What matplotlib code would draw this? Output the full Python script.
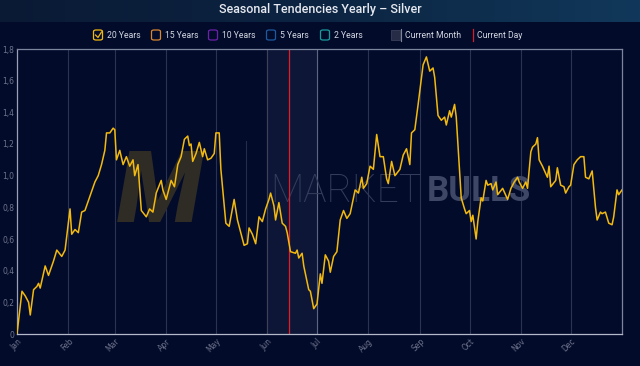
import numpy as np
import matplotlib
matplotlib.use('Agg')
import matplotlib.pyplot as plt
from matplotlib.patches import FancyBboxPatch, Rectangle
from matplotlib.lines import Line2D

# 20-year seasonal tendency for silver (day of year, cumulative value)
days = [0, 1, 3, 5, 7, 8, 10, 12, 13, 14, 17, 19, 22, 24, 27, 29, 32, 33, 35, 37,
        39, 41, 44, 47, 49, 51, 53, 54, 56, 58, 59, 60, 62, 64, 66, 68, 70, 71, 73, 75,
        78, 80, 82, 84, 87, 88, 90, 93, 95, 97, 99, 101, 103, 104, 105, 106, 108, 110, 112, 113,
        115, 117, 119, 120, 122, 123, 126, 128, 131, 133, 137, 139, 140, 142, 144, 146, 148, 150, 152, 153,
        155, 156, 158, 160, 162, 163, 165, 168, 169, 170, 172, 173, 176, 177, 179, 181, 183, 184, 186, 188,
        189, 191, 193, 195, 197, 199, 201, 204, 206, 208, 209, 211, 213, 215, 217, 219, 221, 223, 224, 226,
        228, 231, 233, 235, 237, 238, 240, 242, 245, 247, 249, 251, 252, 254, 256, 258, 259, 261, 262, 264,
        265, 268, 270, 271, 273, 274, 275, 277, 278, 280, 281, 283, 284, 286, 287, 289, 290, 293, 296, 298,
        300, 302, 303, 305, 307, 308, 310, 311, 313, 314, 315, 317, 320, 321, 322, 325, 326, 328, 330, 331,
        333, 334, 336, 338, 340, 342, 343, 345, 347, 349, 350, 352, 353, 355, 357, 359, 360, 362, 363, 365]
values = [0.00, 0.09, 0.27, 0.24, 0.20, 0.12, 0.28, 0.30, 0.32, 0.29, 0.43, 0.37, 0.46, 0.53, 0.49, 0.53, 0.79, 0.63, 0.66, 0.64,
          0.77, 0.78, 0.87, 0.96, 1.00, 1.07, 1.16, 1.27, 1.27, 1.30, 1.29, 1.10, 1.16, 1.07, 1.12, 1.06, 1.10, 1.00, 1.07, 0.78,
          0.74, 0.79, 0.77, 0.89, 0.97, 0.91, 0.85, 0.97, 0.93, 1.07, 1.12, 1.23, 1.25, 1.19, 1.20, 1.09, 1.14, 1.21, 1.12, 1.17,
          1.10, 1.11, 1.14, 1.27, 1.27, 1.04, 0.70, 0.68, 0.85, 0.72, 0.56, 0.57, 0.67, 0.63, 0.57, 0.74, 0.71, 0.79, 0.85, 0.89,
          0.81, 0.72, 0.83, 0.70, 0.68, 0.64, 0.52, 0.51, 0.53, 0.48, 0.51, 0.43, 0.28, 0.27, 0.16, 0.19, 0.38, 0.32, 0.50, 0.46,
          0.39, 0.49, 0.52, 0.72, 0.78, 0.73, 0.76, 0.91, 0.89, 0.99, 0.92, 0.95, 1.06, 1.04, 1.26, 1.12, 1.12, 0.98, 0.95, 1.09,
          1.00, 1.04, 1.13, 1.17, 1.07, 1.27, 1.29, 1.45, 1.70, 1.75, 1.66, 1.68, 1.62, 1.38, 1.35, 1.37, 1.32, 1.41, 1.37, 1.45,
          1.37, 0.86, 0.79, 0.76, 0.78, 0.71, 0.75, 0.60, 0.71, 0.86, 0.84, 0.97, 0.94, 0.95, 0.91, 0.96, 0.88, 0.92, 0.85, 0.92,
          0.96, 0.99, 0.96, 0.92, 0.96, 0.92, 1.15, 1.18, 1.20, 1.24, 1.10, 1.06, 0.99, 1.06, 0.93, 0.97, 1.05, 0.94, 0.93, 0.89,
          0.93, 0.94, 1.07, 1.10, 1.12, 1.12, 0.99, 0.98, 1.03, 0.80, 0.72, 0.77, 0.76, 0.77, 0.70, 0.69, 0.74, 0.91, 0.88, 0.91]

month_starts = [0, 31, 59, 90, 120, 151, 181, 212, 243, 273, 304, 334]
month_labels = ['Jan', 'Feb', 'Mar', 'Apr', 'May', 'Jun', 'Jul', 'Aug', 'Sep', 'Oct', 'Nov', 'Dec']
current_month = (151, 181)
current_day = 164
y_ticks = [0, 0.2, 0.4, 0.6, 0.8, 1.0, 1.2, 1.4, 1.6, 1.8]

legend_names = ['20 Years', '15 Years', '10 Years', '5 Years', '2 Years']
legend_colors = ['#f2b90f', '#d9862e', '#6b21a8', '#1e5aa0', '#179c9c']

bg = '#030b2b'
gold = '#f2b90f'
tick_col = '#6c748c'

fig = plt.figure(figsize=(6.4, 3.66), dpi=100, facecolor=bg)

# title banner gradient
banner = fig.add_axes([0, 1 - 22 / 366, 1, 22 / 366])
grad = np.linspace(0, 1, 256).reshape(1, -1)
cmap = matplotlib.colors.LinearSegmentedColormap.from_list('b', ['#0a1a35', '#0c2442', '#11385a'])
banner.imshow(grad, aspect='auto', cmap=cmap, extent=[0, 1, 0, 1])
banner.axis('off')
fig.text(0.5, 1 - 9 / 366, 'Seasonal Tendencies Yearly \u2013 Silver', ha='center', va='center',
         color='#e6e9f0', fontsize=9, family='Roboto', fontweight='medium')

ax = fig.add_axes([17 / 640, 32 / 366, 605 / 640, 285 / 366])
ax.set_facecolor(bg)

ax.axvspan(current_month[0], current_month[1], color='#0d1637', zorder=0)
for m in month_starts[1:]:
    ax.axvline(m, color='#2a3452', lw=0.8, zorder=1)
ax.axvline(current_month[0], color='#3e4255', lw=0.8, zorder=1)
ax.axvline(current_month[1], color='#5e6580', lw=0.8, zorder=1)
ax.axvline(current_day, color='#e01e2a', lw=0.9, zorder=2)

# watermark
ax.text(86, 0.88, 'M', fontsize=72, fontweight='black', fontstyle='italic', color='#2f2c25',
        ha='center', va='center', family='Roboto', zorder=1)
ax.plot([138, 138], [0.58, 1.22], color='#262d4a', lw=0.8, zorder=1)
ax.text(153, 0.90, 'MARKET', fontsize=28, color='#333c5a', ha='left', va='center',
        family='Roboto', fontweight='light', zorder=1)
ax.text(247, 0.90, 'BULLS', fontsize=25, color='#3e4765', ha='left', va='center',
        family='Roboto', fontweight='bold', zorder=1)

ax.plot(days, values, color=gold, lw=1.1, zorder=3, solid_joinstyle='round')

ax.set_xlim(0, 365)
ax.set_ylim(0, 1.8)
ax.set_xticks(month_starts)
ax.set_xticklabels(month_labels, rotation=45, ha='right', va='top', rotation_mode='anchor',
                   fontsize=5.5, color=tick_col)
ax.set_yticks(y_ticks)
ax.set_yticklabels(['0' if v == 0 else f'{v:.1f}'.replace('.', ',') for v in y_ticks],
                   fontsize=5.5, color=tick_col)
ax.tick_params(length=0, pad=2)
for s in ax.spines.values():
    s.set_color('#7d859e')
    s.set_linewidth(0.9)
ax.spines['bottom'].set_color('#b5bacb')
ax.spines['left'].set_color('#9aa0b5')

# legend row
ly = 1 - 35 / 366
box_x = [98, 156, 213, 271, 325]
for i, (name, col) in enumerate(zip(legend_names, legend_colors)):
    x0 = box_x[i] / 640
    fig.patches.append(FancyBboxPatch((x0 - 4.5 / 640, ly - 5 / 366), 9 / 640, 10 / 366,
                                      boxstyle='round,pad=0,rounding_size=0.004',
                                      transform=fig.transFigure, fc='none', ec=col, lw=0.9))
    fig.text(x0 + 9 / 640, ly, name, ha='left', va='center', color='#d4d8e2', fontsize=6.2,
             family='Roboto')
fig.lines.append(Line2D([95.5 / 640, 98 / 640, 101.5 / 640], [ly, ly - 2.5 / 366, ly + 3 / 366],
                        transform=fig.transFigure, color=gold, lw=0.9))
fig.patches.append(Rectangle((391 / 640, ly - 5 / 366), 9 / 640, 10 / 366, transform=fig.transFigure,
                             fc='#262c45', ec='#3a4058', lw=0.6))
fig.lines.append(Line2D([401 / 640, 401 / 640], [ly - 6 / 366, ly + 6 / 366], transform=fig.transFigure,
                        color='#7d8398', lw=0.8))
fig.text(405 / 640, ly, 'Current Month', ha='left', va='center', color='#d4d8e2', fontsize=6.2, family='Roboto')
fig.lines.append(Line2D([473 / 640, 473 / 640], [ly - 6 / 366, ly + 6 / 366], transform=fig.transFigure,
                        color='#d0202a', lw=0.9))
fig.text(477 / 640, ly, 'Current Day', ha='left', va='center', color='#d4d8e2', fontsize=6.2, family='Roboto')

fig.savefig('out.png', dpi=100, facecolor=bg)
